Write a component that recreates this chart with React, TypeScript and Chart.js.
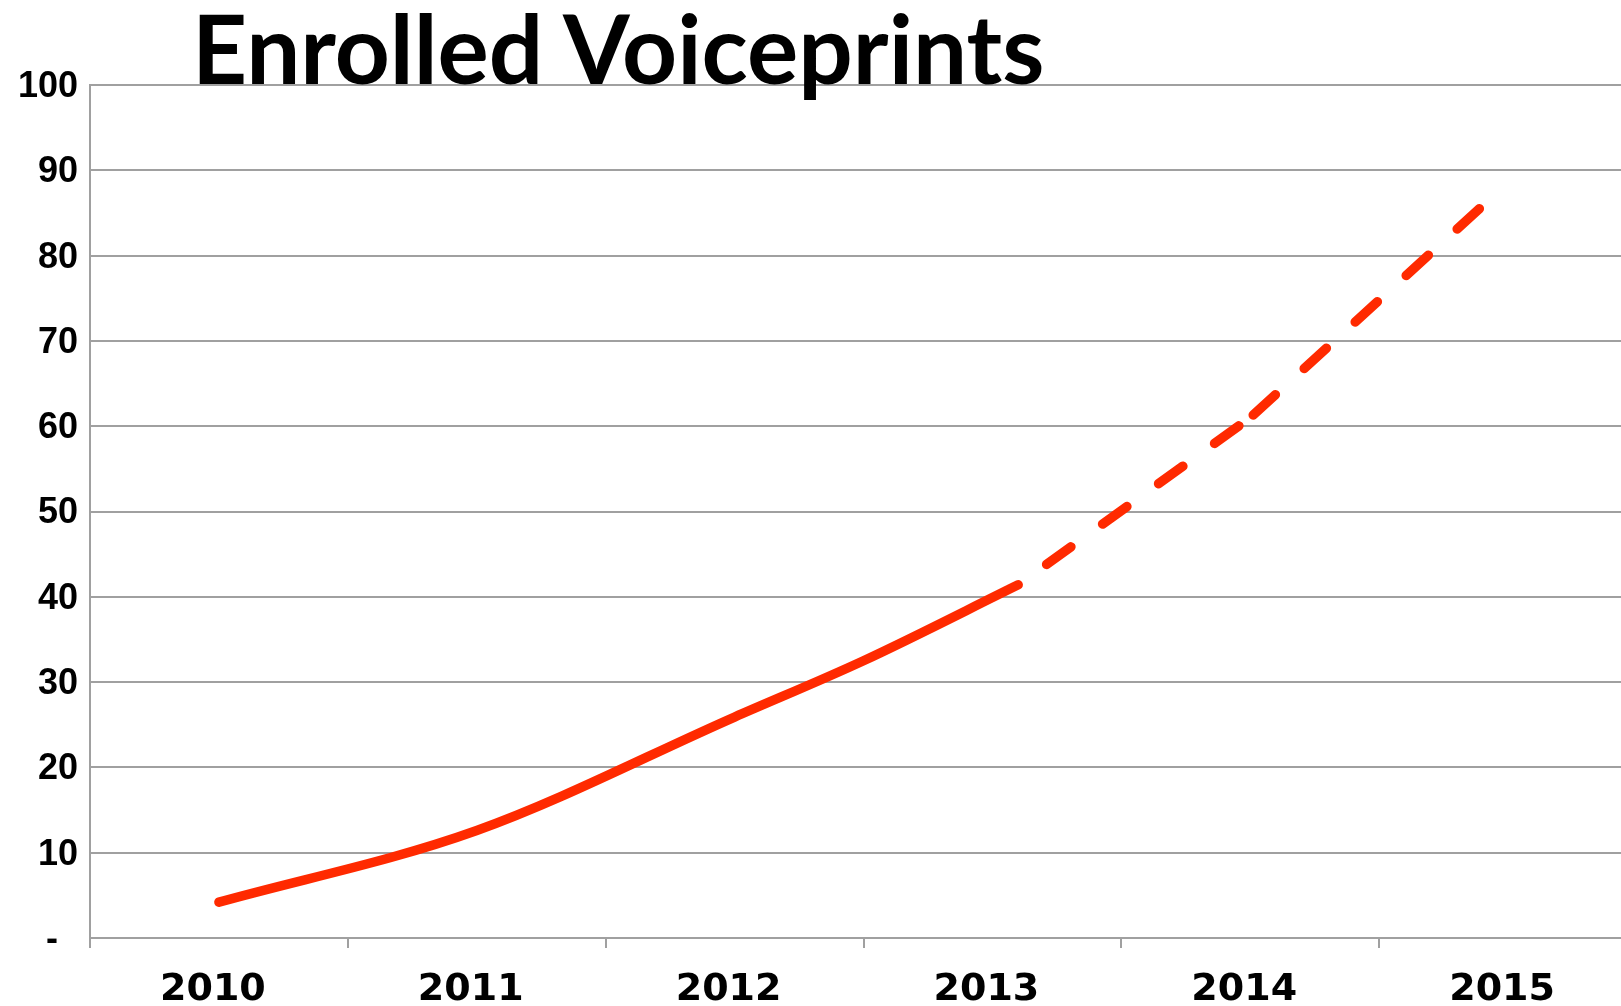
import React, { useEffect, useRef } from 'react';
import { Chart, registerables } from 'chart.js';

Chart.register(...registerables);

const TITLE = 'Enrolled Voiceprints';
const yearLabels = ['2010', '2011', '2012', '2013', '2014', '2015'];

// Actual (solid) series: year position and value
const actualYears = [2010, 2011, 2012, 2012.5, 2013.1];
const actualValues = [4.2, 12.6, 25.9, 32.5, 41.4];

// Projected (dashed) series
const projectedYears = [2013.1, 2014, 2014.9];
const projectedValues = [41.4, 61.0, 85.8];

const yMin = 0;
const yMax = 100;
const yStep = 10;

const RED = '#ff2a00';
const GRID = '#a0a0a0';

export default function App() {
  const canvasRef = useRef<HTMLCanvasElement | null>(null);

  useEffect(() => {
    const canvas = canvasRef.current;
    if (!canvas) return;
    const chart = new Chart(canvas, {
      type: 'line',
      data: {
        datasets: [
          {
            label: 'Actual',
            data: actualYears.map((x, i) => ({ x, y: actualValues[i] })),
            xAxisID: 'xv',
            yAxisID: 'y',
            borderColor: RED,
            borderWidth: 9.5,
            pointRadius: 0,
            cubicInterpolationMode: 'monotone',
            borderCapStyle: 'round',
            borderJoinStyle: 'round',
            fill: false,
          },
          {
            label: 'Projected',
            data: projectedYears.map((x, i) => ({ x, y: projectedValues[i] })),
            xAxisID: 'xv',
            yAxisID: 'y',
            borderColor: RED,
            borderWidth: 9.5,
            pointRadius: 0,
            tension: 0,
            borderDash: [30, 39],
            borderCapStyle: 'round',
            borderJoinStyle: 'round',
            segment: {
              borderDash: () => [30, 39],
              borderDashOffset: (ctx: any) => (ctx.p0DataIndex === 0 ? 34 : -4),
            },
            fill: false,
          },
        ],
      },
      options: {
        animation: false,
        responsive: false,
        maintainAspectRatio: false,
        layout: { padding: { top: 85, right: 3, left: 0, bottom: 0 } },
        plugins: {
          legend: { display: false },
          title: { display: false },
          tooltip: { enabled: false },
        },
        scales: {
          x: {
            type: 'category',
            labels: yearLabels,
            offset: true,
            grid: {
              offset: true,
              drawOnChartArea: false,
              drawTicks: true,
              tickLength: 10,
              color: GRID,
              lineWidth: 2,
            },
            border: { display: true, color: GRID, width: 2 },
            ticks: {
              color: '#000',
              font: { family: 'DejaVu Sans', weight: 'bold', size: 38 },
              padding: 19,
              labelOffset: -6,
              maxRotation: 0,
              autoSkip: false,
            },
            afterFit: (s: any) => {
              s.height = 68;
            },
          },
          xv: {
            type: 'linear',
            display: false,
            min: 2009.5,
            max: 2015.5,
          },
          y: {
            min: yMin,
            max: yMax,
            ticks: {
              stepSize: yStep,
              color: '#000',
              font: { family: 'Liberation Sans, Arial', weight: 'bold', size: 36 },
              padding: 12,
              labelOffset: 2,
              callback: (v: any) => (Number(v) === 0 ? '-  ' : String(v)),
            },
            grid: { color: GRID, lineWidth: 2, drawTicks: false },
            border: { display: true, color: GRID, width: 2 },
            afterFit: (s: any) => {
              s.width = 90;
            },
          },
        },
      },
    } as any);
    return () => chart.destroy();
  }, []);

  return (
    <div
      style={{
        position: 'fixed',
        left: 0,
        top: 0,
        width: 1621,
        height: 1006,
        overflow: 'hidden',
        background: '#fff',
      }}
    >
      <canvas ref={canvasRef} width={1640} height={1006} style={{ display: 'block' }} />
      <div
        style={{
          position: 'absolute',
          left: 192,
          top: -1,
          fontFamily: 'Lato, sans-serif',
          fontWeight: 'bold',
          fontSize: 96,
          lineHeight: 1,
          color: '#000',
          whiteSpace: 'nowrap',
        }}
      >
        {TITLE}
      </div>
    </div>
  );
}
